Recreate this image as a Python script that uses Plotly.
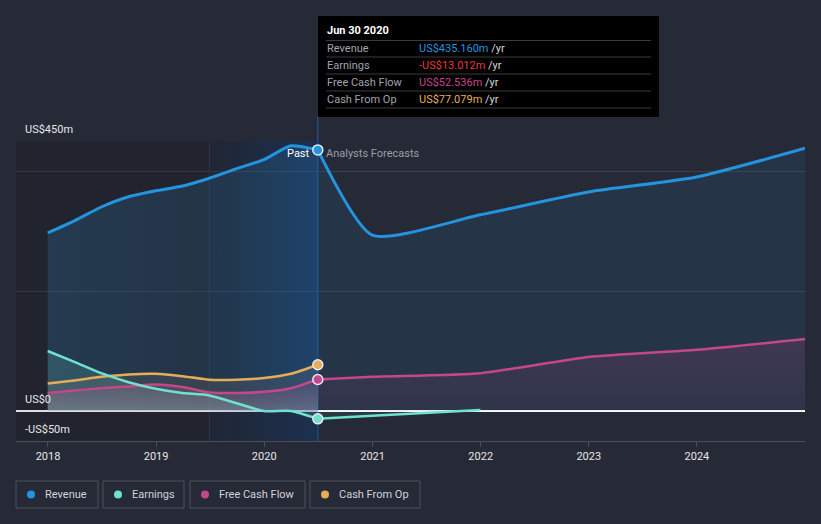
import plotly.graph_objects as go

# ---------------- data ----------------
past_dates = ["2017-12-31", "2018-03-31", "2018-06-30", "2018-09-30", "2018-12-31",
              "2019-03-31", "2019-06-30", "2019-09-30", "2019-12-31", "2020-03-31",
              "2020-06-30"]
revenue_past = [297, 317, 340, 357, 367, 375, 388, 404, 419, 442, 435.16]
earnings_past = [100, 82, 63, 48, 37, 30, 26, 13, 0, 0, -13.012]
fcf_past = [30, 34, 38, 41, 44, 40, 31, 30, 32, 38, 52.536]
cfo_past = [46, 51, 57, 61, 62, 58, 52, 52, 55, 62, 77.079]

fc_dates = ["2020-06-30", "2020-12-31", "2021-12-31", "2022-12-31", "2023-12-31", "2024-12-31"]
revenue_fc = [435.16, 293, 327, 365, 390, 438]
fcf_fc = [52.536, 57, 63, 90, 102, 120]
earn_fc_dates = ["2020-06-30", "2020-12-31", "2021-12-31"]
earnings_fc = [-13.012, -8, 1.5]

year_ticks = ["2018-01-01", "2019-01-01", "2020-01-01", "2021-01-01",
              "2022-01-01", "2023-01-01", "2024-01-01"]
year_labels = ["2018", "2019", "2020", "2021", "2022", "2023", "2024"]

X_RANGE = ["2017-09-15", "2024-12-31"]
Y_RANGE = [-50, 450]
PAST_SHADE_START = "2019-06-30"
LAST_DATE = "2020-06-30"

tooltip_title = "Jun 30 2020"
tooltip_rows = [("Revenue", "US$435.160m"), ("Earnings", "-US$13.012m"),
                ("Free Cash Flow", "US$52.536m"), ("Cash From Op", "US$77.079m")]
legend_names = ["Revenue", "Earnings", "Free Cash Flow", "Cash From Op"]

# ---------------- styles ----------------
C_REV = "#2394df"
C_EARN = "#6ee2cf"
C_FCF = "#c4478a"
C_CFO = "#e5ad5a"
C_EARN_VAL = "#e8383c"
BG = "#262a36"
FONT = "Roboto"

W, H = 821, 524
ML, MR, MT, MB = 16, 16, 141, 83
PW = W - ML - MR
PH = H - MT - MB


def px(x):
    return (x - ML) / PW


def py(y):
    return (H - MB - y) / PH


def rgba(hexc, a):
    h = hexc.lstrip("#")
    return "rgba(%d,%d,%d,%.3f)" % (int(h[0:2], 16), int(h[2:4], 16), int(h[4:6], 16), a)


fig = go.Figure()

# past darkening + blue gradient of last year
fig.add_trace(go.Scatter(
    x=[X_RANGE[0], LAST_DATE, LAST_DATE, X_RANGE[0], X_RANGE[0]],
    y=[Y_RANGE[0], Y_RANGE[0], Y_RANGE[1], Y_RANGE[1], Y_RANGE[0]],
    fill="toself", fillcolor="rgba(0,0,0,0.13)", mode="none",
    hoverinfo="skip", showlegend=False))
fig.add_trace(go.Scatter(
    x=[PAST_SHADE_START, LAST_DATE, LAST_DATE, PAST_SHADE_START, PAST_SHADE_START],
    y=[Y_RANGE[0], Y_RANGE[0], Y_RANGE[1], Y_RANGE[1], Y_RANGE[0]],
    fill="toself", mode="none",
    fillgradient=dict(type="horizontal",
                      colorscale=[[0, "rgba(15,80,160,0.04)"], [1, "rgba(15,80,160,0.28)"]]),
    hoverinfo="skip", showlegend=False))

spl = dict(shape="spline", smoothing=0.6)

# ---- fills ----
fig.add_trace(go.Scatter(x=past_dates, y=revenue_past, mode="none", fill="tozeroy",
                         line=spl,
                         fillgradient=dict(type="horizontal",
                                           colorscale=[[0, "rgba(50,140,200,0.22)"],
                                                       [0.6, "rgba(50,140,200,0.15)"],
                                                       [1, "rgba(35,148,223,0.19)"]]),
                         hoverinfo="skip", showlegend=False))
fig.add_trace(go.Scatter(x=fc_dates, y=revenue_fc, mode="none", fill="tozeroy",
                         line=spl, fillcolor=rgba(C_REV, 0.10),
                         hoverinfo="skip", showlegend=False))
fig.add_trace(go.Scatter(x=past_dates, y=earnings_past, mode="none", fill="tozeroy",
                         line=spl, fillcolor=rgba(C_EARN, 0.16),
                         hoverinfo="skip", showlegend=False))
fig.add_trace(go.Scatter(x=past_dates, y=cfo_past, mode="none", fill="tozeroy",
                         line=spl, fillcolor="rgba(200,175,150,0.12)",
                         hoverinfo="skip", showlegend=False))
fig.add_trace(go.Scatter(x=past_dates, y=fcf_past, mode="none", fill="tozeroy",
                         line=spl,
                         fillgradient=dict(type="vertical",
                                           colorscale=[[0, "rgba(225,200,220,0.24)"],
                                                       [1, "rgba(196,71,138,0.15)"]]),
                         hoverinfo="skip", showlegend=False))
fig.add_trace(go.Scatter(x=fc_dates, y=fcf_fc, mode="none", fill="tozeroy",
                         line=spl,
                         fillgradient=dict(type="vertical",
                                           colorscale=[[0, rgba(C_FCF, 0.05)],
                                                       [1, rgba(C_FCF, 0.17)]]),
                         hoverinfo="skip", showlegend=False))
fig.add_trace(go.Scatter(x=earn_fc_dates, y=earnings_fc, mode="none", fill="tozeroy",
                         line=spl, fillcolor=rgba(C_EARN, 0.08),
                         hoverinfo="skip", showlegend=False))

# ---- lines ----
for xs, ys, col, w in [
    (past_dates, revenue_past, C_REV, 3), (fc_dates, revenue_fc, C_REV, 3),
    (past_dates, cfo_past, C_CFO, 2.5),
    (past_dates, fcf_past, C_FCF, 2.5), (fc_dates, fcf_fc, C_FCF, 2.5),
    (past_dates, earnings_past, C_EARN, 2.5), (earn_fc_dates, earnings_fc, C_EARN, 2.5),
]:
    fig.add_trace(go.Scatter(x=xs, y=ys, mode="lines",
                             line=dict(color=col, width=w, **spl),
                             hoverinfo="skip", showlegend=False))

# markers at last actual
for val, col in [(revenue_past[-1], C_REV), (cfo_past[-1], C_CFO),
                 (fcf_past[-1], C_FCF), (earnings_past[-1], C_EARN)]:
    fig.add_trace(go.Scatter(x=[LAST_DATE], y=[val], mode="markers",
                             marker=dict(size=10, color=col, line=dict(color="#e8e8ee", width=1.5)),
                             hoverinfo="skip", showlegend=False, cliponaxis=False))

shapes = []
annotations = []

shapes.append(dict(type="line", xref="x", yref="paper", x0=PAST_SHADE_START, x1=PAST_SHADE_START,
                   y0=0, y1=1, line=dict(color="rgba(40,100,180,0.35)", width=1), layer="below"))
shapes.append(dict(type="line", xref="x", yref="paper", x0=LAST_DATE, x1=LAST_DATE,
                   y0=0, y1=py(116), line=dict(color="#1f5fa8", width=1), layer="below"))

# tooltip box
shapes.append(dict(type="rect", xref="paper", yref="paper", x0=px(318), x1=px(659),
                   y0=py(117), y1=py(16), fillcolor="#000000", line=dict(width=0)))
for ly in [40.5, 57, 74, 91, 108]:
    shapes.append(dict(type="line", xref="paper", yref="paper", x0=px(326), x1=px(651),
                       y0=py(ly), y1=py(ly), line=dict(color="#3a3a3a", width=1)))
annotations.append(dict(xref="paper", yref="paper", x=px(325), y=py(31), xanchor="left",
                        yanchor="middle", showarrow=False,
                        text="<b>" + tooltip_title + "</b>",
                        font=dict(family=FONT, size=11, color="#ffffff")))
val_colors = [C_REV, C_EARN_VAL, C_FCF, C_CFO]
for i, ((lab, val), vc) in enumerate(zip(tooltip_rows, val_colors)):
    yy = 48.5 + i * 16.9
    annotations.append(dict(xref="paper", yref="paper", x=px(325), y=py(yy), xanchor="left",
                            yanchor="middle", showarrow=False, text=lab,
                            font=dict(family=FONT, size=11, color="#a0a4ab")))
    annotations.append(dict(xref="paper", yref="paper", x=px(417), y=py(yy), xanchor="left",
                            yanchor="middle", showarrow=False,
                            text="<span style='color:%s'>%s</span> /yr" % (vc, val),
                            font=dict(family=FONT, size=11, color="#d8d8d8")))

for txt, yy in [("US$450m", 129), ("US$0", 399), ("-US$50m", 429)]:
    annotations.append(dict(xref="paper", yref="paper", x=px(23), y=py(yy), xanchor="left",
                            yanchor="middle", showarrow=False, text=txt,
                            font=dict(family=FONT, size=11, color="#e6e6e6")))

annotations.append(dict(xref="x", yref="paper", x=LAST_DATE, y=py(153), xanchor="right",
                        yanchor="middle", xshift=-6, showarrow=False, text="Past",
                        font=dict(family=FONT, size=11, color="#ffffff")))
annotations.append(dict(xref="x", yref="paper", x=LAST_DATE, y=py(153), xanchor="left",
                        yanchor="middle", xshift=6, showarrow=False, text="Analysts Forecasts",
                        font=dict(family=FONT, size=11, color="#9a9ea6")))

leg_boxes = [(16, 98), (103, 184), (190, 305), (310, 420)]
leg_cols = [C_REV, C_EARN, C_FCF, C_CFO]
for (x0, x1), name, col in zip(leg_boxes, legend_names, leg_cols):
    shapes.append(dict(type="rect", xref="paper", yref="paper", x0=px(x0), x1=px(x1),
                       y0=py(508), y1=py(481), line=dict(color="#4a505b", width=1),
                       fillcolor="rgba(0,0,0,0)"))
    shapes.append(dict(type="circle", xref="paper", yref="paper", xsizemode="pixel",
                       ysizemode="pixel", xanchor=px(x0 + 15), yanchor=py(494.5),
                       x0=-4, x1=4, y0=-4, y1=4, fillcolor=col, line=dict(width=0)))
    annotations.append(dict(xref="paper", yref="paper", x=px(x0 + 27), y=py(494.5),
                            xanchor="left", yanchor="middle", showarrow=False, text=name,
                            font=dict(family=FONT, size=11, color="#d0d3d8")))

fig.update_layout(
    width=W, height=H,
    margin=dict(l=ML, r=MR, t=MT, b=MB),
    paper_bgcolor=BG, plot_bgcolor=BG,
    showlegend=False,
    shapes=shapes, annotations=annotations,
    xaxis=dict(type="date", range=X_RANGE, tickvals=year_ticks, ticktext=year_labels,
               showgrid=False, showline=True, linecolor="#4a505b", linewidth=1,
               ticks="outside", ticklen=5, tickcolor="#4a505b",
               tickfont=dict(family=FONT, size=11, color="#e6e6e6"), zeroline=False,
               fixedrange=True),
    yaxis=dict(range=Y_RANGE, tickvals=[200, 400, 450], showticklabels=False,
               showgrid=True, gridcolor="#3a404c", gridwidth=1,
               zeroline=True, zerolinecolor="#ffffff", zerolinewidth=1.5,
               fixedrange=True),
)

fig.write_html("out.html")
